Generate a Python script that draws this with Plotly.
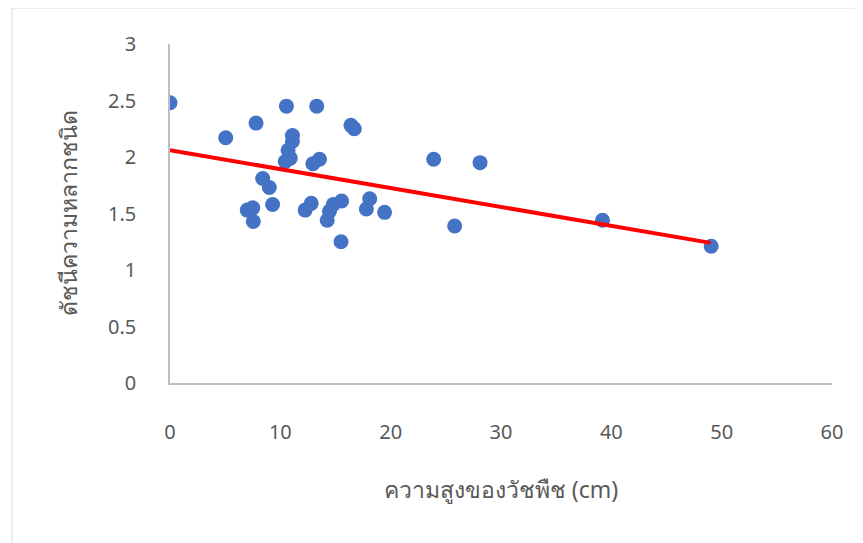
import plotly.graph_objects as go

# Plant height (cm)
height_cm = [0, 5.05, 7.8, 10.55, 13.3, 16.4, 16.7, 11.1, 11.1, 10.7, 10.9, 10.45,
             13.55, 12.95, 8.4, 9.0, 7.0, 7.5, 7.55, 9.3, 12.25, 12.8, 14.25, 14.45,
             14.8, 15.55, 15.5, 17.8, 18.1, 19.45, 23.9, 28.1, 25.8, 39.2, 49.05]
# Species diversity index
diversity = [2.48, 2.17, 2.30, 2.45, 2.45, 2.28, 2.25, 2.19, 2.14, 2.06, 1.99, 1.96,
             1.98, 1.94, 1.81, 1.73, 1.53, 1.55, 1.43, 1.58, 1.53, 1.59, 1.44, 1.52,
             1.58, 1.61, 1.25, 1.54, 1.63, 1.51, 1.98, 1.95, 1.39, 1.44, 1.21]

trend_x = [0, 49.0]
trend_y = [2.06, 1.24]

x_ticks = [0, 10, 20, 30, 40, 50, 60]
y_ticks = [0, 0.5, 1, 1.5, 2, 2.5, 3]
y_tick_labels = ["0", "0.5", "1", "1.5", "2", "2.5", "3"]

x_title = "ความสูงของวัชพืช (cm)"
y_title = "ดัชนีความหลากชนิด"

FONT = "Noto Sans, Open Sans, sans-serif"
GRAY = "#595959"

fig = go.Figure()
fig.add_trace(go.Scatter(
    x=height_cm, y=diversity, mode="markers",
    marker=dict(color="#4472C4", size=15, line=dict(width=0)),
    showlegend=False, hoverinfo="x+y"))
fig.add_trace(go.Scatter(
    x=trend_x, y=trend_y, mode="lines",
    line=dict(color="#FF0000", width=4),
    showlegend=False, hoverinfo="skip"))

fig.update_layout(
    width=855, height=535,
    margin=dict(l=162, r=31, t=36, b=160),
    paper_bgcolor="white", plot_bgcolor="white",
    font=dict(family=FONT, color=GRAY, size=20),
    xaxis=dict(
        range=[0, 60], tickvals=x_ticks, ticktext=[str(v) for v in x_ticks],
        showgrid=False, zeroline=False, showline=True, linecolor="#BFBFBF", linewidth=1.5,
        ticks="", ticklabelstandoff=30, tickfont=dict(size=20, color=GRAY, family=FONT),
        title=dict(text=x_title, font=dict(size=23, color=GRAY, family=FONT), standoff=38),
        automargin=False, fixedrange=True,
    ),
    yaxis=dict(
        range=[0, 3], tickvals=y_ticks, ticktext=y_tick_labels,
        showgrid=False, zeroline=False, showline=True, linecolor="#BFBFBF", linewidth=1.5,
        ticks="", ticklabelstandoff=28, tickfont=dict(size=20, color=GRAY, family=FONT),
        title=dict(text=y_title, font=dict(size=23, color=GRAY, family=FONT), standoff=24),
        automargin=False, fixedrange=True,
    ),
    shapes=[dict(type="rect", xref="paper", yref="paper",
                 x0=(12 - 170) / 662, x1=(861 - 170) / 662,
                 y0=(383 - 545) / 339, y1=(383 - 8) / 339,
                 line=dict(color="#D9D9D9", width=1), fillcolor="rgba(0,0,0,0)",
                 layer="below")],
)

fig.write_html("out.html")
